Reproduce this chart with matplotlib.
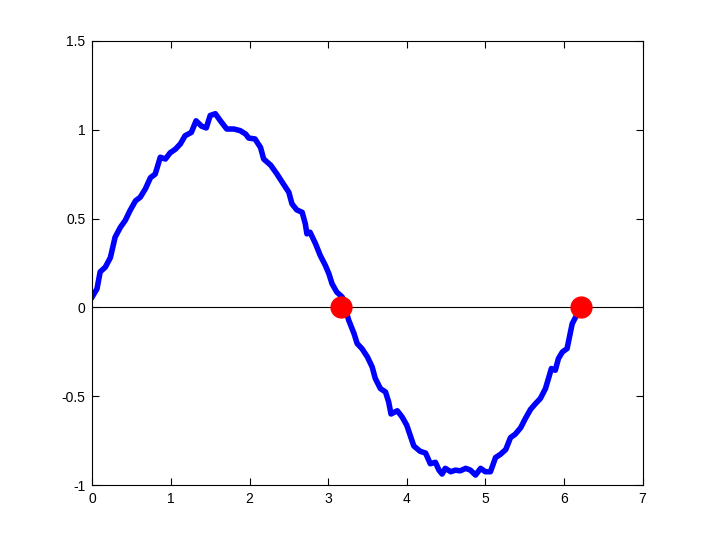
import matplotlib
matplotlib.use("Agg")
import matplotlib.pyplot as plt

plt.rcParams['font.family'] = ['Liberation Sans', 'DejaVu Sans']
plt.rcParams['axes.unicode_minus'] = False

x = [0.00, 0.06, 0.10, 0.165, 0.23, 0.29, 0.356, 0.42, 0.48, 0.55, 0.61, 0.675,
     0.74, 0.80, 0.865, 0.93, 0.99, 1.056, 1.12, 1.18, 1.26, 1.32, 1.39, 1.45,
     1.50, 1.565, 1.63, 1.71, 1.80, 1.88, 1.95, 1.99, 2.07, 2.14, 2.18, 2.27,
     2.35, 2.43, 2.50, 2.54, 2.60, 2.67, 2.71, 2.73, 2.77, 2.84, 2.90, 2.965,
     3.01, 3.05, 3.11, 3.18, 3.26, 3.33, 3.37, 3.43, 3.50, 3.56, 3.60, 3.665,
     3.73, 3.77, 3.80, 3.88, 3.94, 4.00, 4.05, 4.09, 4.17, 4.24, 4.30, 4.365,
     4.41, 4.45, 4.49, 4.56, 4.62, 4.68, 4.75, 4.81, 4.875, 4.94, 5.00, 5.065,
     5.13, 5.19, 5.26, 5.32, 5.38, 5.45, 5.51, 5.575, 5.64, 5.70, 5.765, 5.81,
     5.84, 5.89, 5.93, 5.98, 6.04, 6.07, 6.105, 6.15, 6.19, 6.22]
y = [0.06, 0.105, 0.20, 0.226, 0.28, 0.395, 0.45, 0.49, 0.545, 0.60, 0.62, 0.667,
     0.73, 0.75, 0.845, 0.835, 0.87, 0.89, 0.92, 0.966, 0.985, 1.05, 1.02, 1.01,
     1.08, 1.09, 1.05, 1.004, 1.004, 0.995, 0.976, 0.953, 0.948, 0.90, 0.835, 0.80,
     0.75, 0.695, 0.648, 0.583, 0.549, 0.535, 0.47, 0.414, 0.423, 0.358, 0.292, 0.236,
     0.189, 0.133, 0.086, 0.058, -0.07, -0.148, -0.204, -0.232, -0.279, -0.335, -0.40, -0.457,
     -0.476, -0.532, -0.60, -0.582, -0.616, -0.663, -0.728, -0.78, -0.81, -0.82, -0.88, -0.872,
     -0.916, -0.938, -0.906, -0.925, -0.916, -0.92, -0.906, -0.916, -0.944, -0.906, -0.925, -0.925,
     -0.845, -0.828, -0.80, -0.733, -0.714, -0.677, -0.625, -0.574, -0.541, -0.513, -0.457, -0.39,
     -0.344, -0.354, -0.288, -0.251, -0.232, -0.167, -0.092, -0.054, -0.026, -0.005]

roots_x = [3.17, 6.22]
roots_y = [0.0, 0.0]

xticks = [0, 1, 2, 3, 4, 5, 6, 7]
yticks = [-1, -0.5, 0, 0.5, 1, 1.5]
yticklabels = ['-1', '-0.5', '0', '0.5', '1', '1.5']

fig = plt.figure(figsize=(7.1, 5.45), dpi=100)
ax = fig.add_axes([0.13, 0.11, 0.775, 0.815])
ax.plot(x, y, color='#0000ff', linewidth=4, solid_joinstyle='round', zorder=2)
ax.axhline(0, color='black', linewidth=0.8, zorder=3)
ax.plot(roots_x, roots_y, 'o', color='#ff0000', markersize=16, markeredgewidth=0, zorder=4)

ax.set_xlim(0, 7)
ax.set_ylim(-1, 1.5)
ax.set_xticks(xticks)
ax.set_yticks(yticks)
ax.set_yticklabels(yticklabels)
ax.tick_params(direction='in', length=5, width=0.8, top=True, right=True,
               labelsize=10, pad=5, colors='black')
for s in ax.spines.values():
    s.set_linewidth(0.8)

fig.savefig('out.png', dpi=100, facecolor='white')
